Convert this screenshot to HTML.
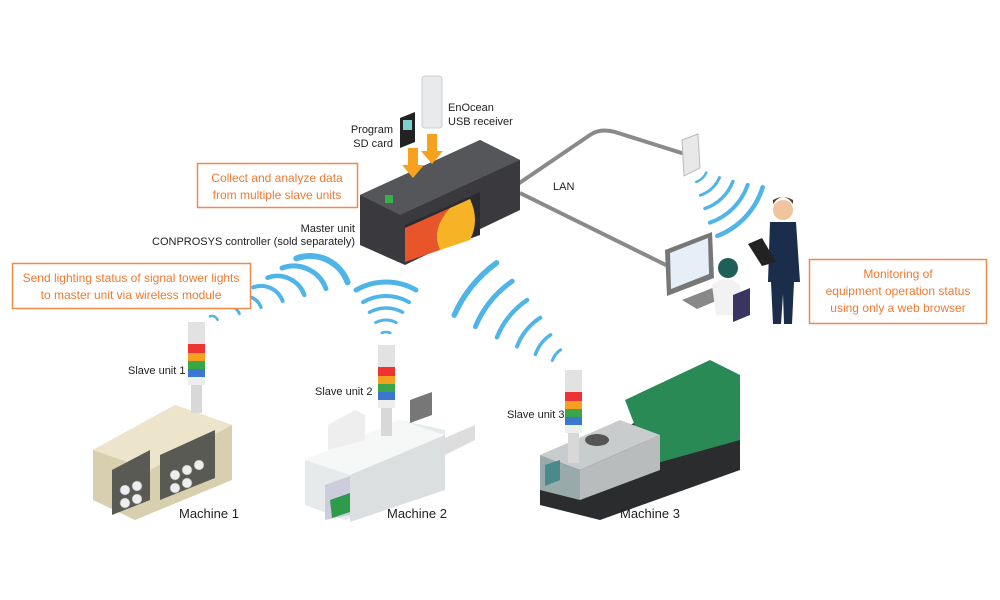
<!DOCTYPE html>
<html><head><meta charset="utf-8"><style>
html,body{margin:0;padding:0;background:#fff;}
svg{display:block;font-family:"Liberation Sans",sans-serif;}
</style></head><body>
<svg width="1000" height="600" viewBox="0 0 1000 600" xmlns="http://www.w3.org/2000/svg">
<rect width="1000" height="600" fill="#fff"/>
<!-- LAN lines -->
<path d="M515 186 L590 135 Q600 128 615 132 L688 155" stroke="#8a8a8a" stroke-width="4" fill="none"/>
<path d="M520 193 L672 268" stroke="#8a8a8a" stroke-width="4" fill="none"/>
<text x="553" y="190" font-size="11" fill="#222">LAN</text>
<!-- router -->
<polygon points="682,140 698,134 700,168 684,176" fill="#e8e8e8" stroke="#bbb"/>
<!-- wifi arcs -->
<g fill="none" stroke="#4fb4e8" stroke-linecap="round">
<!-- tower1 group -->
<circle cx="212" cy="322" r="6" pathLength="360" stroke-width="2.5" stroke-dasharray="90 400" transform="rotate(-110 212 322)"/>
<circle cx="228.3" cy="317.7" r="11.7" pathLength="360" stroke-width="3" stroke-dasharray="90 400" transform="rotate(-110 228.3 317.7)"/>
<circle cx="244.7" cy="313.3" r="17.3" pathLength="360" stroke-width="3.5" stroke-dasharray="90 400" transform="rotate(-110 244.7 313.3)"/>
<circle cx="261" cy="309" r="23" pathLength="360" stroke-width="4" stroke-dasharray="90 400" transform="rotate(-110 261 309)"/>
<circle cx="277.3" cy="304.7" r="28.7" pathLength="360" stroke-width="4.5" stroke-dasharray="90 400" transform="rotate(-110 277.3 304.7)"/>
<circle cx="293.7" cy="300.3" r="34.3" pathLength="360" stroke-width="5" stroke-dasharray="90 400" transform="rotate(-110 293.7 300.3)"/>
<circle cx="310" cy="296" r="40" pathLength="360" stroke-width="6" stroke-dasharray="90 400" transform="rotate(-110 310 296)"/>
<!-- tower2 group center 386,342 -->
<circle cx="386" cy="342" r="10" pathLength="360" stroke-width="2.5" stroke-dasharray="50 400" transform="rotate(-115 386 342)"/>
<circle cx="386" cy="342" r="22" pathLength="360" stroke-width="3" stroke-dasharray="56 400" transform="rotate(-118 386 342)"/>
<circle cx="386" cy="342" r="34" pathLength="360" stroke-width="3.5" stroke-dasharray="58 400" transform="rotate(-119 386 342)"/>
<circle cx="386" cy="342" r="46" pathLength="360" stroke-width="4" stroke-dasharray="60 400" transform="rotate(-120 386 342)"/>
<circle cx="386" cy="342" r="60" pathLength="360" stroke-width="5" stroke-dasharray="60 400" transform="rotate(-120 386 342)"/>
<!-- tower3 group center 573,368 -->
<circle cx="573" cy="368" r="22" pathLength="360" stroke-width="3" stroke-dasharray="36 400" transform="rotate(-160 573 368)"/>
<circle cx="573" cy="368" r="40" pathLength="360" stroke-width="3.5" stroke-dasharray="36 400" transform="rotate(-160 573 368)"/>
<circle cx="573" cy="368" r="60" pathLength="360" stroke-width="4" stroke-dasharray="36 400" transform="rotate(-159 573 368)"/>
<circle cx="573" cy="368" r="82" pathLength="360" stroke-width="4.5" stroke-dasharray="34 400" transform="rotate(-158 573 368)"/>
<circle cx="573" cy="368" r="106" pathLength="360" stroke-width="5" stroke-dasharray="32 400" transform="rotate(-157 573 368)"/>
<circle cx="573" cy="368" r="130" pathLength="360" stroke-width="5.5" stroke-dasharray="30 400" transform="rotate(-156 573 368)"/>
<!-- router group center 690,165 -->
<circle cx="690" cy="165" r="18" pathLength="360" stroke-width="2.5" stroke-dasharray="45 400" transform="rotate(25 690 165)"/>
<circle cx="690" cy="165" r="32" pathLength="360" stroke-width="3" stroke-dasharray="48 400" transform="rotate(23 690 165)"/>
<circle cx="690" cy="165" r="46" pathLength="360" stroke-width="3.5" stroke-dasharray="50 400" transform="rotate(21 690 165)"/>
<circle cx="690" cy="165" r="61" pathLength="360" stroke-width="4" stroke-dasharray="52 400" transform="rotate(19 690 165)"/>
<circle cx="690" cy="165" r="76" pathLength="360" stroke-width="4.5" stroke-dasharray="52 400" transform="rotate(17 690 165)"/>
</g>
<!-- master unit -->
<polygon points="360,195 480,140 520,160 520,210 405,265 360,245" fill="#3a3a3e"/>
<polygon points="360,195 480,140 520,160 400,215" fill="#55565a"/>
<polygon points="405,225 480,192 480,235 405,262" fill="#2a2a30"/>
<path d="M405 228 L450 208 Q430 230 440 250 L405 262Z" fill="#e8552a"/>
<path d="M450 208 L470 199 Q480 220 470 240 L440 250 Q430 230 450 208Z" fill="#f5b325"/>
<rect x="385" y="195" width="8" height="8" fill="#3ab04a"/>
<!-- SD & USB -->
<polygon points="400,118 415,112 415,142 400,148" fill="#222"/><rect x="403" y="120" width="9" height="10" fill="#7cd0c8"/>
<rect x="422" y="76" width="20" height="52" rx="3" fill="#e8eaec" stroke="#ccc"/>
<rect x="408" y="148" width="10" height="18" fill="#f6a21e"/><polygon points="402,165 424,165 413,178" fill="#f6a21e"/>
<rect x="427" y="134" width="10" height="18" fill="#f6a21e"/><polygon points="421,151 443,151 432,164" fill="#f6a21e"/>
<text font-size="11" fill="#222"><tspan x="393" y="133" text-anchor="end">Program</tspan><tspan x="393" y="147" text-anchor="end">SD card</tspan></text>
<text font-size="11" fill="#222"><tspan x="448" y="111">EnOcean</tspan><tspan x="448" y="125">USB receiver</tspan></text>
<text font-size="11" fill="#222" text-anchor="end"><tspan x="355" y="232">Master unit</tspan><tspan x="355" y="245">CONPROSYS controller (sold separately)</tspan></text>
<!-- boxes -->
<rect x="197.5" y="163.5" width="160" height="44" fill="#fff" stroke="#f08a4b" stroke-width="1.5"/>
<text font-size="12" fill="#ee7a33" text-anchor="middle"><tspan x="277" y="182">Collect and analyze data</tspan><tspan x="277" y="199">from multiple slave units</tspan></text>
<rect x="12.5" y="263.5" width="238" height="45" fill="#fff" stroke="#f08a4b" stroke-width="1.5"/>
<text font-size="12" fill="#ee7a33" text-anchor="middle"><tspan x="131" y="282">Send lighting status of signal tower lights</tspan><tspan x="131" y="299">to master unit via wireless module</tspan></text>
<rect x="809.5" y="259.5" width="177" height="64" fill="#fff" stroke="#f08a4b" stroke-width="1.5"/>
<text font-size="12" fill="#ee7a33" text-anchor="middle"><tspan x="898" y="278">Monitoring of</tspan><tspan x="898" y="295">equipment operation status</tspan><tspan x="898" y="312">using only a web browser</tspan></text>
<!-- workstation -->
<polygon points="665,250 712,232 714,278 667,296" fill="#777"/><polygon points="670,253 708,238 709,274 671,289" fill="#e6eef8"/>
<polygon points="682,300 720,285 735,293 697,309" fill="#888"/>
<circle cx="728" cy="268" r="10" fill="#1f5f5a"/><path d="M712 285 q14 -12 28 0 l2 30 h-26z" fill="#f2f2f2"/>
<polygon points="733,295 750,288 750,315 733,322" fill="#3a3560"/>
<!-- person -->
<circle cx="783" cy="210" r="10" fill="#f0c49c"/><path d="M773 204 q10 -14 20 0 v-4 q-10 -6 -20 0z" fill="#5a3a22"/>
<path d="M770 222 h26 l4 60 h-6 l-2 42 h-8 l-1 -30 l-2 30 h-8 l-2 -42 h-3z" fill="#1a2d4a"/>
<polygon points="748,244 762,238 776,262 762,266" fill="#222"/>
<!-- machine 1 -->
<polygon points="93,450 175,405 232,425 232,480 135,520 93,500" fill="#d8cfae"/>
<polygon points="93,450 175,405 232,425 150,470" fill="#ece5cb"/>
<polygon points="112,470 150,450 150,500 112,515" fill="#5a5a55"/>
<polygon points="160,455 215,430 215,478 160,500" fill="#5a5a55"/>
<g fill="#eee" stroke="#888" stroke-width="0.6"><circle cx="125" cy="490" r="5"/><circle cx="137" cy="486" r="5"/><circle cx="125" cy="503" r="5"/><circle cx="137" cy="499" r="5"/><circle cx="175" cy="475" r="5"/><circle cx="187" cy="470" r="5"/><circle cx="199" cy="465" r="5"/><circle cx="175" cy="488" r="5"/><circle cx="187" cy="483" r="5"/></g>
<!-- machine 2 -->
<polygon points="305,460 400,420 445,430 445,490 345,520 305,505" fill="#e6eaeb"/>
<polygon points="305,460 400,420 445,435 350,475" fill="#f6f7f7"/>
<polygon points="350,475 445,435 445,490 350,522" fill="#dcdfe0"/>
<polygon points="325,485 350,476 350,515 325,520" fill="#ccd"/>
<polygon points="330,500 350,493 350,512 332,518" fill="#2e9a4c"/>
<polygon points="328,425 355,410 365,415 365,440 328,450" fill="#eee"/>
<polygon points="410,400 432,392 432,415 410,423" fill="#777"/>
<polygon points="440,440 475,425 475,440 445,455" fill="#ddd"/>
<!-- machine 3 -->
<polygon points="540,470 640,420 740,390 740,470 600,520 540,505" fill="#2a2c2e"/>
<polygon points="625,400 710,360 740,375 740,440 650,465" fill="#2a8a55"/>
<polygon points="540,455 620,420 660,435 580,470" fill="#c8cccc"/>
<polygon points="540,455 580,470 580,500 540,490" fill="#9aa"/>
<polygon points="580,470 660,435 660,470 580,500" fill="#b8bcbc"/>
<polygon points="545,465 560,460 560,480 545,486" fill="#4a8a8a"/>
<ellipse cx="597" cy="440" rx="12" ry="6" fill="#555"/>
<!-- towers -->
<g>
<rect x="188" y="322" width="17" height="22" fill="#e2e2e2"/><rect x="188" y="344" width="17" height="9" fill="#e33"/><rect x="188" y="353" width="17" height="8" fill="#f5a020"/><rect x="188" y="361" width="17" height="8" fill="#3aa64a"/><rect x="188" y="369" width="17" height="8" fill="#3a78d0"/><rect x="188" y="377" width="17" height="8" fill="#eee"/><rect x="191" y="385" width="11" height="28" fill="#d8d8d8"/>
<rect x="378" y="345" width="17" height="22" fill="#e2e2e2"/><rect x="378" y="367" width="17" height="9" fill="#e33"/><rect x="378" y="376" width="17" height="8" fill="#f5a020"/><rect x="378" y="384" width="17" height="8" fill="#3aa64a"/><rect x="378" y="392" width="17" height="8" fill="#3a78d0"/><rect x="378" y="400" width="17" height="8" fill="#eee"/><rect x="381" y="408" width="11" height="28" fill="#d8d8d8"/>
<rect x="565" y="370" width="17" height="22" fill="#e2e2e2"/><rect x="565" y="392" width="17" height="9" fill="#e33"/><rect x="565" y="401" width="17" height="8" fill="#f5a020"/><rect x="565" y="409" width="17" height="8" fill="#3aa64a"/><rect x="565" y="417" width="17" height="8" fill="#3a78d0"/><rect x="565" y="425" width="17" height="8" fill="#eee"/><rect x="568" y="433" width="11" height="30" fill="#d8d8d8"/>
</g>
<!-- labels -->
<g font-size="11" fill="#222">
<text x="128" y="374">Slave unit 1</text><text x="315" y="395">Slave unit 2</text><text x="507" y="418">Slave unit 3</text>
</g>
<g font-size="13" fill="#222">
<text x="179" y="518">Machine 1</text><text x="387" y="518">Machine 2</text><text x="620" y="518">Machine 3</text>
</g>
</svg>
</body></html>
